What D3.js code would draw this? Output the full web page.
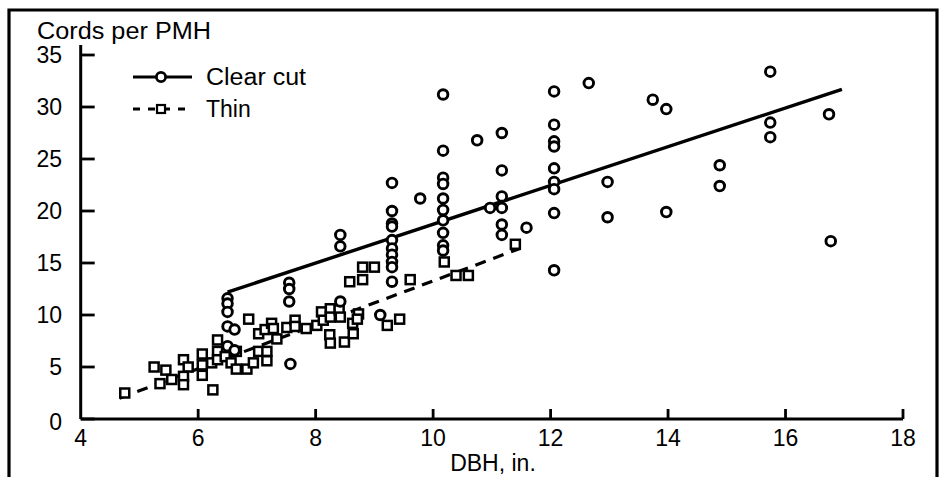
<!DOCTYPE html>
<html>
<head>
<meta charset="utf-8">
<script src="https://cdn.jsdelivr.net/npm/d3@7"></script>
<style>
  body { margin: 0; background: #fff; }
  text { font-family: "Liberation Sans", Arial, sans-serif; fill: #000; }
</style>
</head>
<body>
<div id="chart"></div>
<script>
// values
var clearCut = [
  [6.5, 11.6], [6.5, 11.1], [6.5, 10.3], [6.5, 8.9], [6.62, 8.6], [6.5, 7.0], [6.62, 6.6],
  [7.55, 13.1], [7.55, 12.5], [7.55, 11.3], [7.57, 5.3],
  [8.42, 17.7], [8.42, 16.6], [8.42, 11.3],
  [9.1, 10.0],
  [9.3, 22.7], [9.3, 20.0], [9.3, 18.8], [9.3, 18.5], [9.3, 17.2], [9.3, 16.4], [9.3, 15.8],
  [9.3, 15.1], [9.3, 14.6], [9.3, 13.2],
  [9.78, 21.2],
  [10.17, 31.2], [10.17, 25.8], [10.17, 23.2], [10.17, 22.6], [10.17, 21.2], [10.17, 20.1],
  [10.17, 19.1], [10.17, 17.9], [10.17, 16.7], [10.17, 16.2],
  [10.75, 26.8], [10.97, 20.3],
  [11.17, 27.5], [11.17, 23.9], [11.17, 21.4], [11.17, 20.3], [11.17, 18.7], [11.17, 17.7],
  [11.59, 18.4],
  [12.06, 31.5], [12.06, 28.3], [12.06, 26.7], [12.06, 26.2], [12.06, 24.1], [12.06, 22.8],
  [12.06, 22.1], [12.06, 19.8], [12.06, 14.3],
  [12.65, 32.3], [12.97, 22.8], [12.97, 19.4],
  [13.74, 30.7], [13.97, 29.8], [13.97, 19.9],
  [14.88, 24.4], [14.88, 22.4],
  [15.74, 33.4], [15.74, 28.5], [15.74, 27.1],
  [16.74, 29.3], [16.77, 17.1]
];

var thin = [
  [4.75, 2.5], [5.25, 5.0], [5.35, 3.4], [5.45, 4.7], [5.55, 3.8],
  [5.75, 5.7], [5.83, 5.0], [5.75, 4.1], [5.75, 3.3],
  [6.07, 6.25], [6.07, 5.2], [6.07, 4.2], [6.25, 2.8], [6.23, 5.4],
  [6.33, 7.6], [6.33, 6.5], [6.33, 5.7], [6.46, 6.0],
  [6.65, 6.5], [6.56, 5.4], [6.65, 4.8], [6.83, 4.8], [6.86, 9.6], [6.94, 5.4],
  [7.03, 6.5], [7.17, 6.5], [7.17, 5.6], [7.03, 8.2], [7.14, 8.6], [7.25, 9.2], [7.28, 8.7],
  [7.34, 7.7], [7.51, 8.8], [7.65, 9.5], [7.65, 8.9], [7.84, 8.7], [8.02, 9.0],
  [8.1, 10.3], [8.13, 9.5], [8.25, 10.6], [8.25, 9.8], [8.4, 10.5], [8.42, 9.8],
  [8.24, 8.1], [8.25, 7.3], [8.49, 7.4], [8.64, 8.2], [8.63, 9.2], [8.73, 10.1], [8.71, 9.6],
  [8.58, 13.2], [8.8, 13.4], [8.8, 14.6], [9.0, 14.6],
  [9.22, 9.0], [9.43, 9.6], [9.61, 13.4],
  [10.19, 15.1], [10.39, 13.8], [10.6, 13.8], [11.4, 16.8]
];

var clearFit = [[6.5, 12.2], [16.96, 31.7]];
var thinFit = [[4.66, 2.0], [11.48, 16.4]];

var xTicks = [4, 6, 8, 10, 12, 14, 16, 18];
var yTicks = [0, 5, 10, 15, 20, 25, 30, 35];

var width = 944, height = 477;

var svg = d3.select("#chart").append("svg")
  .attr("width", width).attr("height", height);

var x = d3.scaleLinear().domain([4, 18]).range([80.7, 903]);
var y = d3.scaleLinear().domain([0, 35]).range([419, 55]);

// outer frame, open at the bottom like the scan
svg.append("path")
  .attr("d", "M9,480 L9,10 L937,10 L937,480")
  .attr("fill", "none").attr("stroke", "#000").attr("stroke-width", 3.2);

// axes
svg.append("line")
  .attr("x1", x(4)).attr("x2", x(4)).attr("y1", 45).attr("y2", y(0))
  .attr("stroke", "#000").attr("stroke-width", 3);
svg.append("line")
  .attr("x1", x(4)).attr("x2", x(18)).attr("y1", y(0)).attr("y2", y(0))
  .attr("stroke", "#000").attr("stroke-width", 3);

svg.selectAll(".ytick").data(yTicks).enter().append("line")
  .attr("x1", x(4)).attr("x2", x(4) + 14)
  .attr("y1", d => y(d)).attr("y2", d => y(d))
  .attr("stroke", "#000").attr("stroke-width", 2.8);

svg.selectAll(".ylab").data(yTicks).enter().append("text")
  .attr("x", 62).attr("y", d => y(d) + 8 + (d === 0 ? 3 : 0))
  .attr("text-anchor", "end").style("font-size", "23px")
  .text(d => d);

svg.selectAll(".xtick").data(xTicks.slice(1)).enter().append("line")
  .attr("x1", d => x(d)).attr("x2", d => x(d))
  .attr("y1", y(0)).attr("y2", y(0) - 10)
  .attr("stroke", "#000").attr("stroke-width", 2.8);

svg.selectAll(".xlab").data(xTicks).enter().append("text")
  .attr("x", d => x(d)).attr("y", 446)
  .attr("text-anchor", "middle").style("font-size", "23px")
  .text(d => d);

svg.append("text").attr("x", 37).attr("y", 39)
  .style("font-size", "23px").attr("textLength", 174).attr("lengthAdjust", "spacingAndGlyphs")
  .text("Cords per PMH");

svg.append("text").attr("x", 493).attr("y", 471)
  .attr("text-anchor", "middle").style("font-size", "23px")
  .text("DBH, in.");

// fitted lines
var line = d3.line().x(d => x(d[0])).y(d => y(d[1]));

svg.append("path").datum(clearFit).attr("d", line)
  .attr("fill", "none").attr("stroke", "#000").attr("stroke-width", 3.4);
svg.append("path").datum(thinFit).attr("d", line)
  .attr("fill", "none").attr("stroke", "#000").attr("stroke-width", 3.2)
  .attr("stroke-dasharray", "11,8");

// points
svg.selectAll(".sq").data(thin).enter().append("rect")
  .attr("x", d => x(d[0]) - 4.5).attr("y", d => y(d[1]) - 4.5)
  .attr("width", 9).attr("height", 9)
  .attr("fill", "#fff").attr("stroke", "#000").attr("stroke-width", 2.5);

svg.selectAll(".pt").data(clearCut).enter().append("circle")
  .attr("cx", d => x(d[0])).attr("cy", d => y(d[1])).attr("r", 4.8)
  .attr("fill", "#fff").attr("stroke", "#000").attr("stroke-width", 2.9);

// legend
var leg = svg.append("g");
leg.append("line").attr("x1", 133).attr("x2", 192).attr("y1", 77).attr("y2", 77)
  .attr("stroke", "#000").attr("stroke-width", 2.9);
leg.append("circle").attr("cx", 161).attr("cy", 77).attr("r", 4.6)
  .attr("fill", "#fff").attr("stroke", "#000").attr("stroke-width", 2.8);
leg.append("text").attr("x", 206).attr("y", 85).style("font-size", "23px")
  .attr("textLength", 100).attr("lengthAdjust", "spacingAndGlyphs").text("Clear cut");

leg.append("line").attr("x1", 133).attr("x2", 192).attr("y1", 109).attr("y2", 109)
  .attr("stroke", "#000").attr("stroke-width", 2.8).attr("stroke-dasharray", "7,8");
leg.append("rect").attr("x", 157).attr("y", 105).attr("width", 8).attr("height", 8)
  .attr("fill", "#fff").attr("stroke", "#000").attr("stroke-width", 2.2);
leg.append("text").attr("x", 206).attr("y", 117).style("font-size", "23px")
  .text("Thin");
</script>
</body>
</html>
